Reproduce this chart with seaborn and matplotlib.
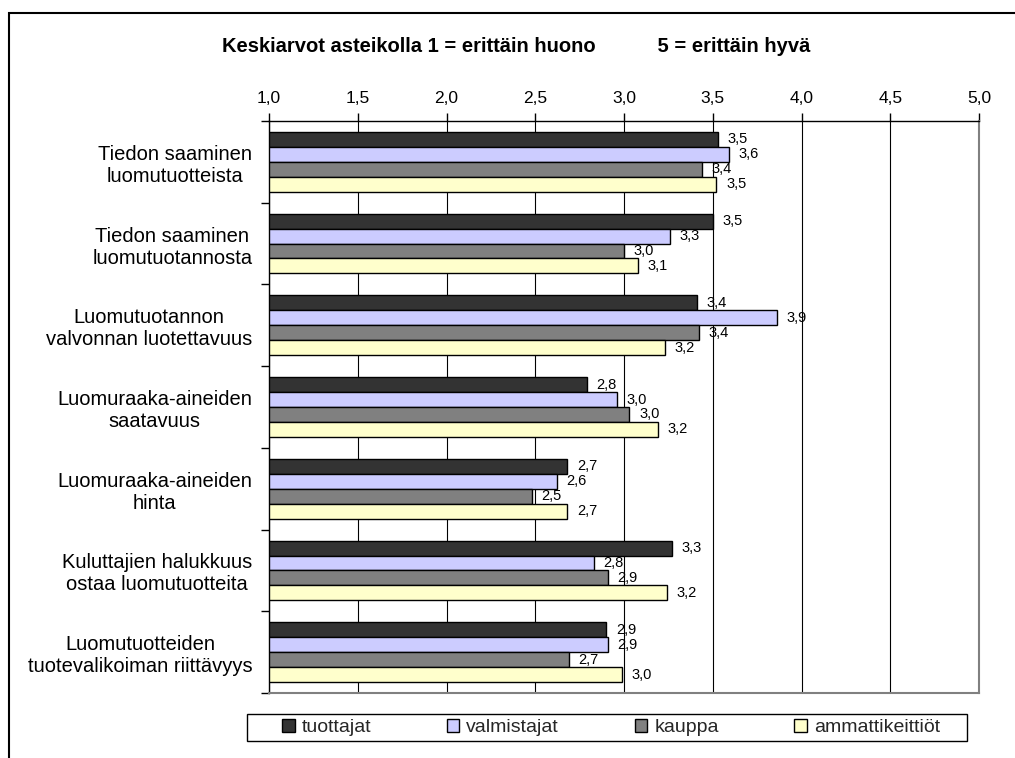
import numpy as np
import pandas as pd
import matplotlib
matplotlib.use("Agg")
import matplotlib.pyplot as plt
from matplotlib.patches import Rectangle
from matplotlib.ticker import FuncFormatter
import seaborn as sns

# Rated items (top to bottom)
kohteet = [
    "Tiedon saaminen\nluomutuotteista",
    "Tiedon saaminen\nluomutuotannosta",
    "Luomutuotannon\nvalvonnan luotettavuus",
    "Luomuraaka-aineiden\nsaatavuus",
    "Luomuraaka-aineiden\nhinta",
    "Kuluttajien halukkuus\nostaa luomutuotteita",
    "Luomutuotteiden\ntuotevalikoiman riittävyys",
]
ryhmat = ["tuottajat", "valmistajat", "kauppa", "ammattikeittiöt"]

# Mean ratings on a 1-5 scale per respondent group
tuottajat = [3.53, 3.50, 3.41, 2.79, 2.68, 3.27, 2.90]
valmistajat = [3.59, 3.26, 3.86, 2.96, 2.62, 2.83, 2.91]
kauppa = [3.44, 3.00, 3.42, 3.03, 2.48, 2.91, 2.69]
ammattikeittiot = [3.52, 3.08, 3.23, 3.19, 2.68, 3.24, 2.99]

x_ticks = [1.0, 1.5, 2.0, 2.5, 3.0, 3.5, 4.0, 4.5, 5.0]
varit = ["#333333", "#CCCCFF", "#808080", "#FFFFCC"]
otsikko = ("Keskiarvot asteikolla 1 = erittäin huono" + " " * 11
           + "5 = erittäin hyvä")

sns.set_style("white")
plt.rcParams["font.family"] = ["Liberation Sans", "DejaVu Sans"]

sarjat = [tuottajat, valmistajat, kauppa, ammattikeittiot]
rivit = []
for ryhma, arvot in zip(ryhmat, sarjat):
    for kohde, arvo in zip(kohteet, arvot):
        rivit.append({"kohde": kohde, "ryhmä": ryhma, "arvo": arvo})
df = pd.DataFrame(rivit)

W, H = 1015, 758
fig = plt.figure(figsize=(W / 100, H / 100), dpi=100)
fig.patch.set_facecolor("white")
ax = fig.add_axes([269 / W, 1 - 693 / H, (979 - 269) / W, (693 - 121) / H])

sns.barplot(
    data=df, x="arvo", y="kohde", hue="ryhmä",
    order=kohteet, hue_order=ryhmat, palette=varit,
    orient="h", width=0.73, gap=0, saturation=1,
    edgecolor="black", linewidth=1.0, errorbar=None, ax=ax,
)

ax.set_xlim(1, 5)
ax.set_ylim(len(kohteet) - 0.5, -0.5)
ax.set_xlabel("")
ax.set_ylabel("")

# Value axis on top, decimal comma
ax.xaxis.tick_top()
ax.set_xticks(x_ticks)
ax.xaxis.set_major_formatter(FuncFormatter(lambda v, p: f"{v:.1f}".replace(".", ",")))
ax.tick_params(axis="x", which="major", direction="out", length=6, width=1,
               color="black", pad=5, labelsize=12.5, labelcolor="black")
ax.grid(axis="x", color="black", linewidth=0.8)
ax.grid(axis="y", visible=False)
ax.set_axisbelow(True)

# Category labels centred in bands, ticks at band edges
ax.set_yticks(range(len(kohteet)))
ax.set_yticklabels(kohteet, fontsize=14.5, multialignment="center")
ax.tick_params(axis="y", which="major", length=0, pad=12, labelcolor="black")
ax.set_yticks(np.arange(-0.5, len(kohteet), 1), minor=True)
ax.tick_params(axis="y", which="minor", direction="out", length=6, width=1,
               color="black", left=True)

for side in ("top", "left"):
    ax.spines[side].set_color("black")
    ax.spines[side].set_linewidth(1.0)
for side in ("right", "bottom"):
    ax.spines[side].set_color("#808080")
    ax.spines[side].set_linewidth(1.5)

for cont in ax.containers:
    ax.bar_label(cont, fmt=lambda v: f"{v:.1f}".replace(".", ","),
                 padding=7, fontsize=10.5, color="black")

fig.text(516 / W, 1 - 47 / H, otsikko, ha="center", va="center",
         fontsize=14.5, fontweight="bold", color="black")

# Legend
handles, labels = ax.get_legend_handles_labels()
if ax.get_legend() is not None:
    ax.get_legend().remove()
for h in handles:
    h.set_edgecolor("black")
    h.set_linewidth(1.0)
fig.legend(handles, labels, loc="center",
           bbox_to_anchor=(282 / W, 1 - 741 / H, (940 - 282) / W, 27 / H),
           bbox_transform=fig.transFigure, mode="expand", ncol=4,
           frameon=False, fontsize=14, handlelength=0.65, handleheight=0.65,
           handletextpad=0.35, borderpad=0, borderaxespad=0)
fig.add_artist(Rectangle((247 / W, 1 - 741 / H), (967 - 247) / W, 27 / H,
                         transform=fig.transFigure, fill=False,
                         edgecolor="black", linewidth=1.0))

# Outer chart frame
fig.add_artist(Rectangle((9 / W, -0.05), 1.2, (1 - 13 / H) + 0.05,
                         transform=fig.transFigure, fill=False,
                         edgecolor="black", linewidth=1.5))

fig.savefig("out.png", dpi=100)
